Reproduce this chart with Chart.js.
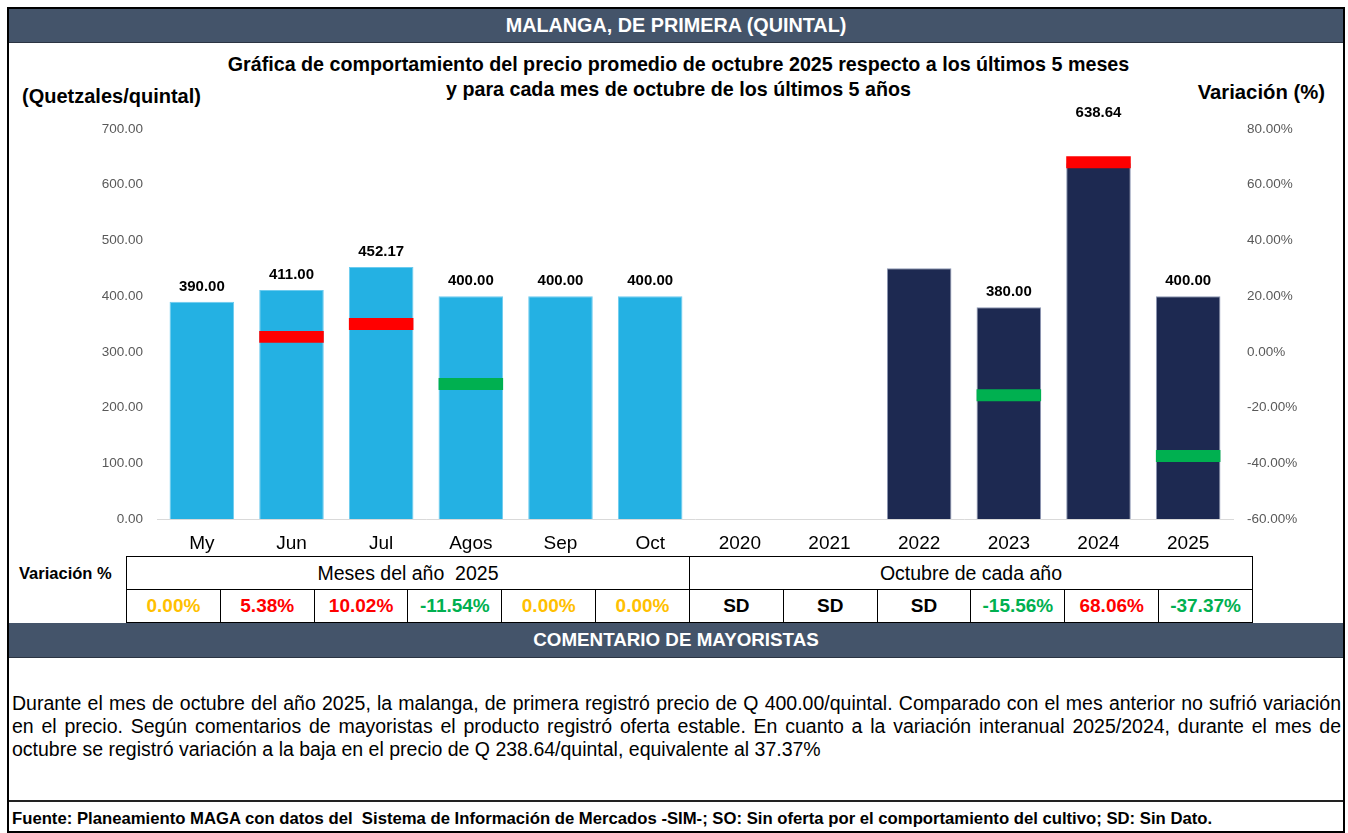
<!DOCTYPE html>
<html>
<head>
<meta charset="utf-8">
<script src="https://cdn.jsdelivr.net/npm/chart.js@4.4.1/dist/chart.umd.min.js"></script>
<style>
  body { margin: 0; background: #fff; font-family: 'Liberation Sans', Arial, sans-serif; }
  #page { position: relative; width: 1348px; height: 833px; overflow: hidden; }
  .abs { position: absolute; }
  .band { background: #44546A; color: #fff; font-weight: bold; text-align: center; border-bottom: 1px solid #2b3442; }
  .cell { position: absolute; box-sizing: border-box; border: 1px solid #000; display: flex; align-items: center; justify-content: center; white-space: pre; }
  .just { text-align: justify; text-align-last: justify; }
</style>
</head>
<body>
<div id="page">
  <div class="abs" style="left:7px;top:7px;width:1338px;height:826px;border:2px solid #000;box-sizing:border-box;"></div>
  <div class="abs band" style="left:9px;top:9px;width:1334px;height:33px;line-height:33px;font-size:19.8px;">MALANGA, DE PRIMERA (QUINTAL)</div>

  <div class="abs" style="left:0;top:52px;width:1357px;text-align:center;font-weight:bold;font-size:19.7px;line-height:25px;">Gráfica de comportamiento del precio promedio de octubre 2025 respecto a los últimos 5 meses<br>y para cada mes de octubre de los últimos 5 años</div>
  <div class="abs" style="left:22px;top:84px;font-weight:bold;font-size:20px;line-height:24px;">(Quetzales/quintal)</div>
  <div class="abs" style="right:23px;top:80px;font-weight:bold;font-size:20.3px;line-height:24px;">Variación (%)</div>

  <canvas id="grafica" class="abs" width="1348" height="456" style="left:0;top:100px;"></canvas>

  <div class="abs" style="left:19px;top:561px;font-weight:bold;font-size:16.5px;line-height:24px;">Variación %</div>
  <div id="tabla"></div>

  <div class="abs band" style="left:9px;top:623px;width:1334px;height:34px;line-height:34px;font-size:18.8px;">COMENTARIO DE MAYORISTAS</div>

  <div class="abs just" style="left:12px;top:692px;width:1329px;font-size:19.5px;line-height:23px;">Durante el mes de octubre del año 2025, la malanga, de primera registró precio de Q 400.00/quintal. Comparado con el mes anterior no sufrió variación</div>
  <div class="abs just" style="left:12px;top:715px;width:1329px;font-size:19.5px;line-height:23px;">en el precio. Según comentarios de mayoristas el producto registró oferta estable. En cuanto a la variación interanual 2025/2024, durante el mes de</div>
  <div class="abs" style="left:12px;top:738px;width:1329px;font-size:19.5px;line-height:23px;">octubre se registró variación a la baja en el precio de Q 238.64/quintal, equivalente al 37.37%</div>

  <div class="abs" style="left:9px;top:800px;width:1334px;height:2px;background:#222;"></div>
  <div class="abs" style="left:12px;top:808px;font-weight:bold;font-size:16.7px;line-height:22px;white-space:pre;">Fuente: Planeamiento MAGA con datos del  Sistema de Información de Mercados -SIM-; SO: Sin oferta por el comportamiento del cultivo; SD: Sin Dato.</div>
</div>

<script>
// categorias del eje x
const categorias = ['My', 'Jun', 'Jul', 'Agos', 'Sep', 'Oct', '2020', '2021', '2022', '2023', '2024', '2025'];
// precio promedio (Q/quintal), null = sin dato
const precios = [390.00, 411.00, 452.17, 400.00, 400.00, 400.00, null, null, 450.00, 380.00, 638.64, 400.00];
// etiquetas que se ven sobre las barras
const etiquetasPrecio = ['390.00', '411.00', '452.17', '400.00', '400.00', '400.00', '', '', '', '380.00', '638.64', '400.00'];
// variacion (%), null = SD
const variaciones = [0.00, 5.38, 10.02, -11.54, 0.00, 0.00, null, null, null, -15.56, 68.06, -37.37];
// grupos de la tabla
const grupos = ['Meses del año  2025', 'Octubre de cada año'];

const fuente = "'Liberation Sans', Arial, sans-serif";
const azul = '#24B1E3', marino = '#1D2951';
const rojo = '#FF0000', verde = '#00B050', amarillo = '#FFC000';

function colorVar(v) {
    if (v === null) return '#000';
    if (v > 0) return rojo;
    if (v < 0) return verde;
    return amarillo;
}

// tabla de variaciones
const tabla = document.getElementById('tabla');
const x0 = 126, ancho = 93.83;
grupos.forEach((g, i) => {
    const d = document.createElement('div');
    d.className = 'cell';
    d.style.cssText = `left:${x0 + i * 6 * ancho}px;top:556px;width:${6 * ancho + 1}px;height:34px;font-size:19.5px;`;
    d.textContent = g;
    tabla.appendChild(d);
});
variaciones.forEach((v, i) => {
    const d = document.createElement('div');
    d.className = 'cell';
    d.style.cssText = `left:${x0 + i * ancho}px;top:589px;width:${ancho + 1}px;height:34px;font-size:19px;font-weight:bold;color:${colorVar(v)};`;
    d.textContent = v === null ? 'SD' : v.toFixed(2) + '%';
    tabla.appendChild(d);
});

// marcadores de variacion (barras flotantes sobre el eje derecho)
const medio = 2.15;
const marcas = variaciones.map(v => (v === null || v === 0) ? null : [v - medio, v + medio]);

// la etiqueta de 2024 queda mas arriba, por encima del marcador
const desplazamiento = i => categorias[i] === '2024' ? 50 : 15;

const etiquetasPlugin = {
    id: 'etiquetas',
    afterDatasetsDraw(chart) {
        const ctx = chart.ctx;
        const meta = chart.getDatasetMeta(1);
        ctx.save();
        ctx.font = 'bold 15px ' + fuente;
        ctx.fillStyle = '#000';
        ctx.textAlign = 'center';
        ctx.textBaseline = 'middle';
        meta.data.forEach((bar, i) => {
            if (precios[i] === null || !etiquetasPrecio[i]) return;
            ctx.fillText(etiquetasPrecio[i], bar.x, bar.y - desplazamiento(i));
        });
        ctx.restore();
    }
};

new Chart(document.getElementById('grafica'), {
    type: 'bar',
    data: {
        labels: categorias,
        datasets: [{
            label: 'Variación',
            data: marcas,
            yAxisID: 'y1',
            backgroundColor: variaciones.map(v => v > 0 ? rojo : (v < 0 ? verde : 'rgba(0,0,0,0)')),
            borderWidth: 0,
            grouped: false,
            order: 0,
            barPercentage: 0.72,
            categoryPercentage: 1
        }, {
            label: 'Precio',
            data: precios,
            yAxisID: 'y',
            backgroundColor: categorias.map((c, i) => i < 6 ? azul : marino),
            borderColor: categorias.map((c, i) => i < 6 ? '#6CCBEF' : '#8D97B3'),
            borderWidth: 1,
            grouped: false,
            order: 1,
            barPercentage: 0.72,
            categoryPercentage: 1
        }]
    },
    options: {
        responsive: false,
        animation: false,
        layout: { padding: { top: 29, left: 0, right: 0, bottom: 0 } },
        plugins: { legend: { display: false }, tooltip: { enabled: false } },
        scales: {
            x: {
                grid: { display: false, drawTicks: false },
                border: { display: true, color: '#D9D9D9', width: 1 },
                ticks: { color: '#000', font: { size: 19, family: fuente }, padding: 13, maxRotation: 0, autoSkip: false },
                afterFit(s) { s.height = 37; }
            },
            y: {
                position: 'left',
                min: 0, max: 700,
                grid: { display: false, drawTicks: false },
                border: { display: false },
                ticks: { stepSize: 100, color: '#595959', font: { size: 13.5, family: fuente }, padding: 14, callback: v => v.toFixed(2) },
                afterFit(s) { s.width = 157; }
            },
            y1: {
                position: 'right',
                min: -60, max: 80,
                grid: { display: false, drawTicks: false },
                border: { display: false },
                ticks: { stepSize: 20, color: '#595959', font: { size: 13.5, family: fuente }, padding: 14, callback: v => v.toFixed(2) + '%' },
                afterFit(s) { s.width = 115; }
            }
        }
    },
    plugins: [etiquetasPlugin]
});
</script>
</body>
</html>
